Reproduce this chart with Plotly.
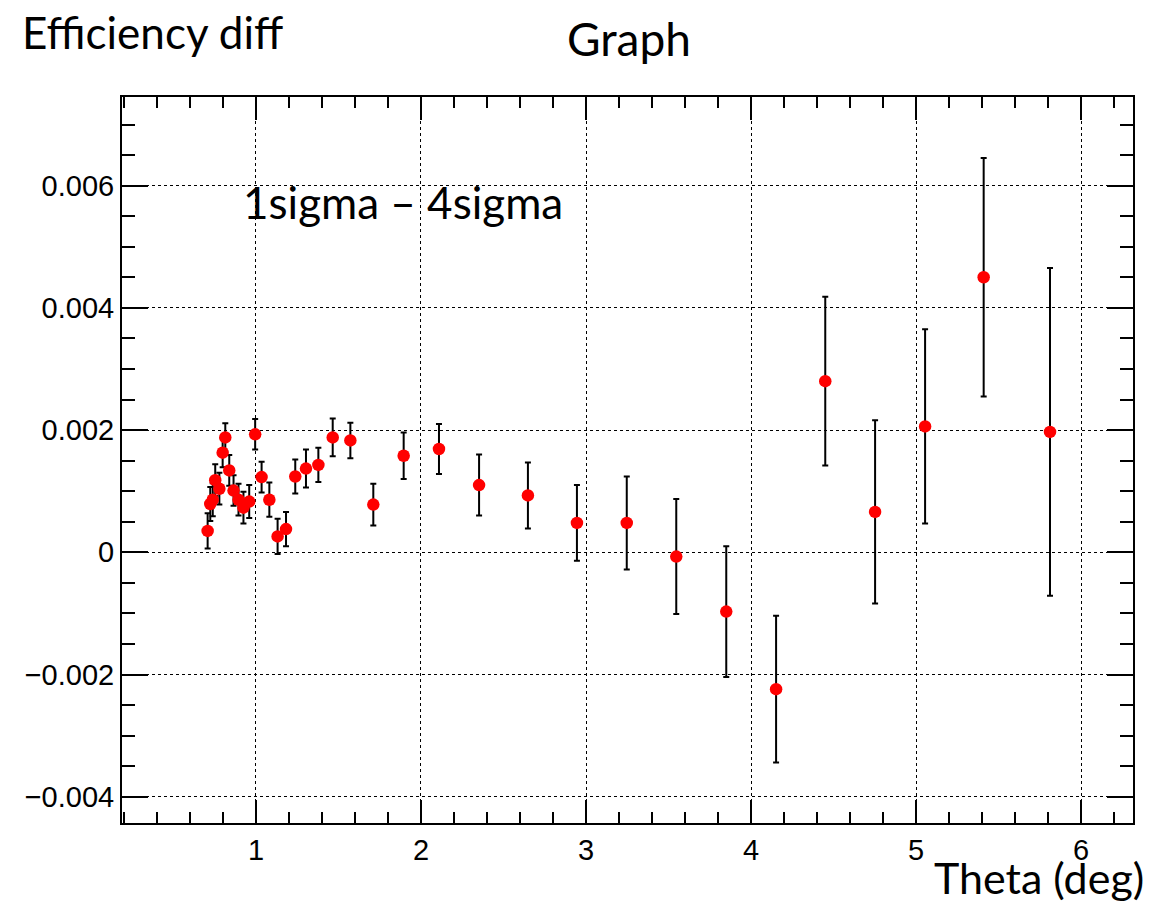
import plotly.graph_objects as go

# Efficiency difference vs polar angle, with statistical errors
theta = [0.707, 0.723, 0.738, 0.753, 0.778, 0.798, 0.814, 0.838, 0.864, 0.894,
         0.924, 0.959, 0.995, 1.034, 1.081, 1.131, 1.182, 1.238, 1.303, 1.378,
         1.465, 1.572, 1.711, 1.895, 2.109, 2.352, 2.648, 2.945, 3.247, 3.547,
         3.850, 4.152, 4.450, 4.752, 5.055, 5.410, 5.812]
eff_diff = [0.00035, 0.00079, 0.00086, 0.00118, 0.00104, 0.00163, 0.00188, 0.00134,
            0.00101, 0.00086, 0.00073, 0.00083, 0.00193, 0.00123, 0.00086, 0.00026,
            0.00038, 0.00124, 0.00137, 0.00143, 0.00188, 0.00183, 0.00078, 0.00158,
            0.00169, 0.00110, 0.00093, 0.00048, 0.00048, -0.00007, -0.00097, -0.00224,
            0.00280, 0.00066, 0.00206, 0.00450, 0.00197]
eff_err = [0.00029, 0.00028, 0.00027, 0.00026, 0.00026, 0.00024, 0.00023, 0.00025,
           0.00025, 0.00026, 0.00026, 0.00027, 0.00025, 0.00025, 0.00028, 0.00029,
           0.00028, 0.00028, 0.00031, 0.00028, 0.00031, 0.00029, 0.00034, 0.00038,
           0.00041, 0.00050, 0.00054, 0.00062, 0.00076, 0.00094, 0.00107, 0.00120,
           0.00138, 0.00150, 0.00159, 0.00195, 0.00268]

fig = go.Figure()
fig.add_trace(go.Scatter(
    x=theta, y=eff_diff, mode="markers",
    marker=dict(color="#ff0000", size=12.5, line=dict(width=0)),
    error_y=dict(type="data", array=eff_err, visible=True,
                 color="black", thickness=2, width=3),
    showlegend=False,
))

tick_font = dict(family="Liberation Sans, Arial, sans-serif", size=29, color="black")
label_font = dict(family="Lato, sans-serif", size=44, color="black")

axis_common = dict(
    showline=True, linecolor="black", linewidth=2, mirror="allticks",
    ticks="inside", tickcolor="black", tickwidth=2,
    showgrid=True, gridcolor="black", griddash="dot", gridwidth=1,
    zeroline=False, tickfont=tick_font,
)

fig.update_xaxes(
    range=[0.188, 6.315], tick0=0, dtick=1, ticklen=23,
    minor=dict(dtick=0.2, ticklen=11, tickcolor="black", tickwidth=2, ticks="inside",
               showgrid=False),
    **axis_common,
)
fig.update_yaxes(
    range=[-0.00443, 0.00745], tick0=0, dtick=0.002, ticklen=26,
    minor=dict(dtick=0.0005, ticklen=13, tickcolor="black", tickwidth=2, ticks="inside",
               showgrid=False),
    **axis_common,
)

fig.add_annotation(text="Efficiency diff", xref="paper", yref="paper",
                   x=-0.101, y=1.0895, xanchor="left", yanchor="middle",
                   showarrow=False, font=label_font)
fig.add_annotation(text="Graph", xref="paper", yref="paper",
                   x=0.5015, y=1.081, xanchor="center", yanchor="middle",
                   showarrow=False, font=dict(label_font, size=46))
fig.add_annotation(text="1sigma – 4sigma", xref="paper", yref="paper",
                   x=0.1177, y=0.856, xanchor="left", yanchor="middle",
                   showarrow=False, font=label_font)
fig.add_annotation(text="Theta (deg)", xref="paper", yref="paper",
                   x=1.0119, y=-0.1115, xanchor="right", yanchor="bottom",
                   showarrow=False, borderpad=0, font=dict(label_font, size=43))

fig.update_layout(
    width=1175, height=906,
    margin=dict(l=122, r=42, t=97, b=83),
    paper_bgcolor="white", plot_bgcolor="white",
)

fig.write_html("out.html")
